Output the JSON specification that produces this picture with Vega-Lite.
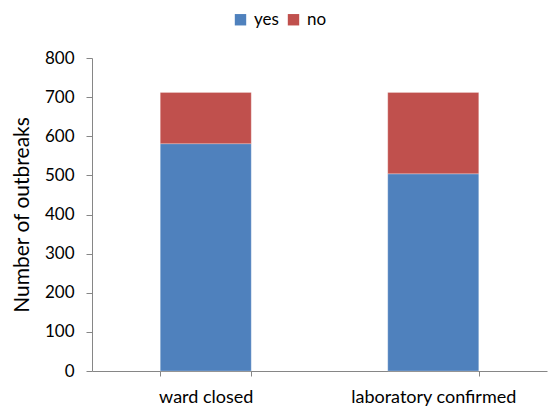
{
  "$schema": "https://vega.github.io/schema/vega-lite/v6.json",
  "autosize": "none",
  "width": 455,
  "height": 313,
  "padding": {"left": 92, "top": 58, "right": 1, "bottom": 39},
  "background": "white",
  "config": {
    "font": "Lato",
    "view": {"stroke": null},
    "axis": {"labelFont": "Lato", "titleFont": "Lato", "labelColor": "#000", "titleColor": "#000", "domainColor": "#868686", "tickColor": "#868686", "grid": false},
    "legend": {"labelFont": "Lato", "labelColor": "#000"}
  },
  "data": {
    "values": [
      {"measure": "ward closed", "answer": "yes", "order": 1, "outbreaks": 581},
      {"measure": "ward closed", "answer": "no", "order": 2, "outbreaks": 131},
      {"measure": "laboratory confirmed", "answer": "yes", "order": 1, "outbreaks": 504},
      {"measure": "laboratory confirmed", "answer": "no", "order": 2, "outbreaks": 208}
    ]
  },
  "mark": {"type": "bar", "stroke": "#ffffff", "strokeOpacity": 0.25, "strokeWidth": 1},
  "encoding": {
    "x": {
      "field": "measure",
      "type": "nominal",
      "sort": ["ward closed", "laboratory confirmed"],
      "scale": {"paddingInner": 0.6, "paddingOuter": 0.3},
      "axis": {
        "title": null,
        "labelAngle": 0,
        "labelFontSize": 18,
        "labelPadding": 12,
        "tickBand": "extent",
        "tickSize": 5,
        "domainWidth": 1
      }
    },
    "y": {
      "field": "outbreaks",
      "type": "quantitative",
      "stack": "zero",
      "scale": {"domain": [0, 800]},
      "axis": {
        "title": "Number of outbreaks",
        "titleFontSize": 21,
        "titleFontWeight": "normal",
        "titlePadding": 12,
        "values": [0, 100, 200, 300, 400, 500, 600, 700, 800],
        "labelFontSize": 17,
        "labelPadding": 12,
        "tickSize": 6
      }
    },
    "color": {
      "field": "answer",
      "type": "nominal",
      "scale": {"domain": ["yes", "no"], "range": ["#4F81BD", "#C0504D"]},
      "legend": {
        "title": null,
        "orient": "none",
        "direction": "horizontal",
        "legendX": 140,
        "legendY": -47,
        "symbolType": "square",
        "symbolSize": 130,
        "symbolStrokeWidth": 0,
        "labelFontSize": 17,
        "columnPadding": 6,
        "labelOffset": 5
      }
    },
    "order": {"field": "order", "type": "quantitative"}
  }
}
